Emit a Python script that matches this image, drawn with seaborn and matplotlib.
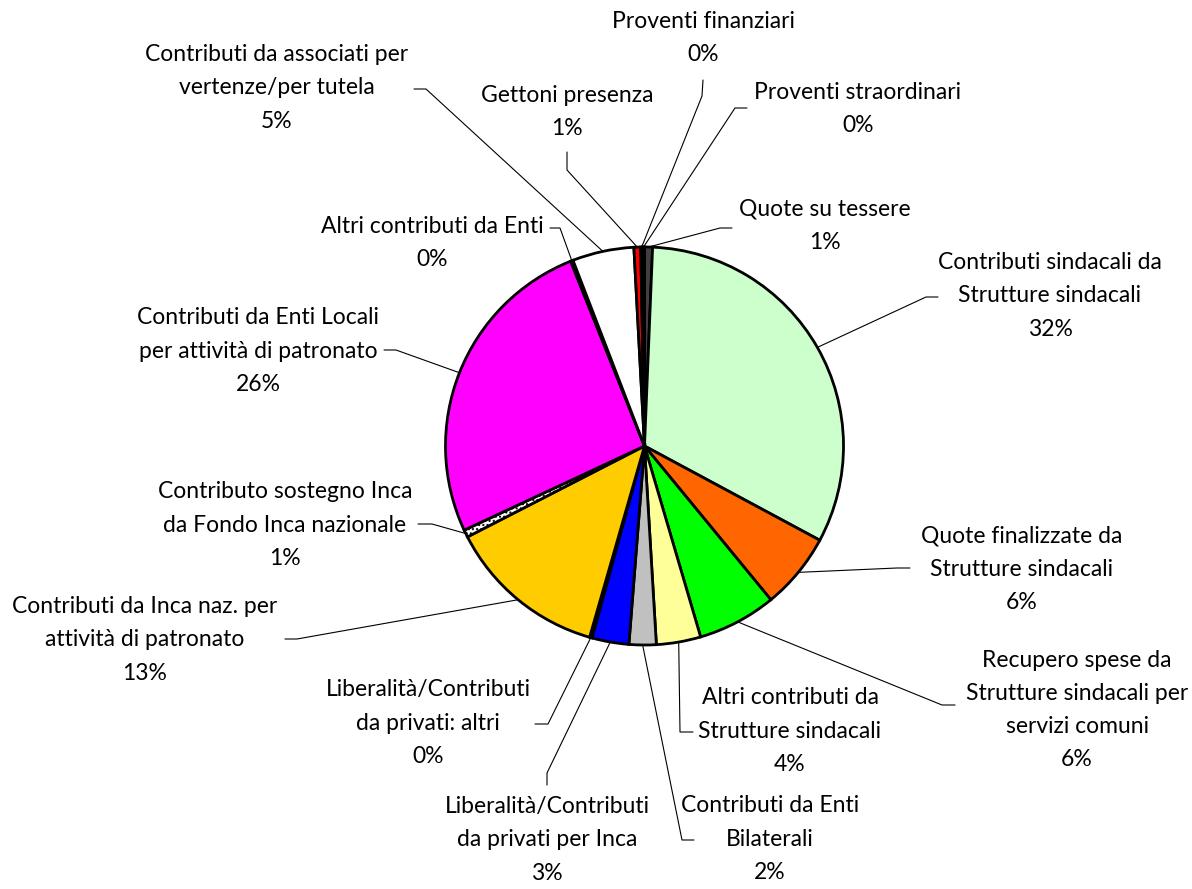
import math
import matplotlib
matplotlib.use("Agg")
import matplotlib.pyplot as plt
import seaborn as sns

# slices, clockwise from 12 o'clock
categories = [
    "Quote su tessere",
    "Contributi sindacali da\nStrutture sindacali",
    "Quote finalizzate da\nStrutture sindacali",
    "Recupero spese da\nStrutture sindacali per\nservizi comuni",
    "Altri contributi da\nStrutture sindacali",
    "Contributi da Enti\nBilaterali",
    "Liberalità/Contributi\nda privati per Inca",
    "Liberalità/Contributi\nda privati: altri",
    "Contributi da Inca naz. per\nattività di patronato",
    "Contributo sostegno Inca\nda Fondo Inca nazionale",
    "Contributi da Enti Locali\nper attività di patronato",
    "Altri contributi da Enti",
    "Contributi da associati per\nvertenze/per tutela",
    "Gettoni presenza",
    "Proventi finanziari",
    "Proventi straordinari",
]
values = [0.65, 32.2, 6.2, 6.4, 3.6, 2.2, 3.0, 0.2, 13.0, 0.6, 25.9, 0.2, 5.0, 0.55, 0.15, 0.15]
colors = ["#404040", "#CCFFCC", "#FF6600", "#00FF00", "#FFFF99", "#C0C0C0",
          "#0000FF", "#CCFFFF", "#FFCC00", "#FFFFFF", "#FF00FF", "#00CCCC",
          "#FFFFFF", "#FF0000", "#9999FF", "#C0C0C0"]

W, H = 1192, 889
CX, CY, R = 644.5, 446, 199

# label layout in pixel coords: text centre, leader start, leader elbow
layout = [
    (825, 226, (732, 228), (720, 228)),
    (1050, 296, (938, 297), (926, 297)),
    (1022, 569, (910, 568), (897, 568)),
    (1077, 710, (955, 705), (942, 705)),
    (790, 731, (693, 732), (680, 732)),
    (770, 839, (694, 840), (682, 840)),
    (547, 840, (547, 785), (547, 773)),
    (428, 723, (535, 724), (548, 724)),
    (145, 640, (285, 639), (297, 639)),
    (285, 525, (418, 524), (432, 524)),
    (258, 351, (384, 350), (396, 350)),
    (432, 243, (550, 228), (560, 228)),
    (277, 88, (414, 89), (426, 89)),
    (567, 112, (567, 152), (567, 170)),
    (703, 38, (703, 80), (702, 96)),
    (858, 109, (747, 108), (735, 108)),
]

sns.set_theme(style="white")
plt.rcParams["font.family"] = ["Lato", "DejaVu Sans"]

fig = plt.figure(figsize=(W / 100, H / 100), dpi=100)
ax = fig.add_axes([0, 0, 1, 1])

wedges, _ = ax.pie(values, colors=colors, startangle=90, counterclock=False,
                   center=(CX, H - CY), radius=R,
                   wedgeprops=dict(edgecolor="black", linewidth=2.0))
wedges[9].set_hatch("....")
ax.set_xlim(0, W)
ax.set_ylim(0, H)
ax.set_aspect("auto")
ax.axis("off")

total = sum(values)
for w, cat, v, (tx, ty, p0, p1) in zip(wedges, categories, values, layout):
    pct = int(v / total * 100 + 0.5)
    ax.text(tx, H - ty, f"{cat}\n{pct}%", ha="center", va="center",
            multialignment="center", fontsize=16.5, linespacing=1.72, color="black")
    a = math.radians((w.theta1 + w.theta2) / 2)
    ex = CX + R * math.cos(a)
    ey = (H - CY) + R * math.sin(a)
    ax.plot([p0[0], p1[0], ex], [H - p0[1], H - p1[1], ey],
            color="black", linewidth=0.8)

fig.savefig("out.png", dpi=100)
